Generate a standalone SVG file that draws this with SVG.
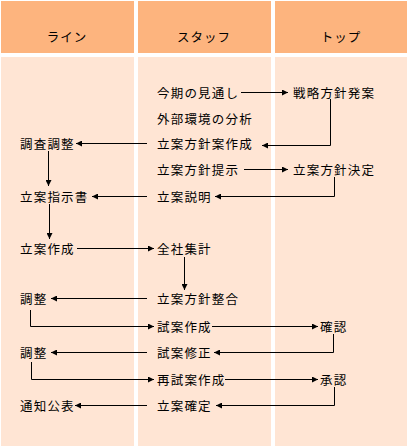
<svg xmlns="http://www.w3.org/2000/svg" width="408" height="447" viewBox="0 0 408 447">
<style>
.hd{fill:#FDB47E}
.bd{fill:#FFE5D4}
text{font-family:"Noto Sans CJK JP","Noto Sans CJK SC",sans-serif;font-size:12.5px;fill:#000;letter-spacing:1.2px;dominant-baseline:central}
.h{text-anchor:middle;letter-spacing:1px}
.c path{fill:none;stroke:#000;stroke-width:1}
</style>
<defs>
<marker id="a" viewBox="0 0 10 10" refX="10" refY="5" markerWidth="6" markerHeight="6" markerUnits="userSpaceOnUse" orient="auto">
<path d="M0,0 L10,5 L0,10 z" fill="#000"/>
</marker>
</defs>
<rect width="408" height="447" fill="#fff"/>
<g id="headers">
<rect class="hd" x="1" y="1" width="133" height="52"/>
<rect class="hd" x="138" y="1" width="133" height="52"/>
<rect class="hd" x="275" y="1" width="132" height="52"/>
<text class="h" x="67" y="36">ライン</text>
<text class="h" x="204" y="36">スタッフ</text>
<text class="h" x="341" y="36">トップ</text>
</g>
<g id="body">
<rect class="bd" x="1" y="57" width="133" height="389"/>
<rect class="bd" x="138" y="57" width="133" height="389"/>
<rect class="bd" x="275" y="57" width="132" height="389"/>
</g>
<g id="n1"><text x="157" y="92">今期の見通し</text></g>
<g id="n2"><text x="293" y="92">戦略方針発案</text></g>
<g id="n3"><text x="157" y="118">外部環境の分析</text></g>
<g id="n4"><text x="157" y="143">立案方針案作成</text></g>
<g id="n5"><text x="20" y="143">調査調整</text></g>
<g id="n6"><text x="157" y="169">立案方針提示</text></g>
<g id="n7"><text x="293" y="169">立案方針決定</text></g>
<g id="n8"><text x="157" y="196">立案説明</text></g>
<g id="n9"><text x="20" y="196">立案指示書</text></g>
<g id="n10"><text x="20" y="248">立案作成</text></g>
<g id="n11"><text x="157" y="248">全社集計</text></g>
<g id="n12"><text x="157" y="298">立案方針整合</text></g>
<g id="n13"><text x="20" y="298">調整</text></g>
<g id="n14"><text x="157" y="326">試案作成</text></g>
<g id="n15"><text x="320" y="326">確認</text></g>
<g id="n16"><text x="157" y="352">試案修正</text></g>
<g id="n17"><text x="20" y="352">調整</text></g>
<g id="n18"><text x="157" y="379">再試案作成</text></g>
<g id="n19"><text x="320" y="379">承認</text></g>
<g id="n20"><text x="157" y="405">立案確定</text></g>
<g id="n21"><text x="20" y="405">通知公表</text></g>
<g id="connectors" class="c">
<path d="M241,92.5 H288" marker-end="url(#a)"/>
<path d="M330.5,99 V145.5 H262" marker-end="url(#a)"/>
<path d="M147,143.5 H76" marker-end="url(#a)"/>
<path d="M48.5,151 V186" marker-end="url(#a)"/>
<path d="M244,169.5 H288" marker-end="url(#a)"/>
<path d="M334.5,177 V196.5 H215" marker-end="url(#a)"/>
<path d="M147,196.5 H92" marker-end="url(#a)"/>
<path d="M49.5,204 V239" marker-end="url(#a)"/>
<path d="M77,248.5 H154" marker-end="url(#a)"/>
<path d="M184.5,257 V290" marker-end="url(#a)"/>
<path d="M147,298.5 H51" marker-end="url(#a)"/>
<path d="M30.5,310 V326.5 H154" marker-end="url(#a)"/>
<path d="M212,326.5 H318" marker-end="url(#a)"/>
<path d="M333.5,334 V352.5 H214" marker-end="url(#a)"/>
<path d="M147,352.5 H51" marker-end="url(#a)"/>
<path d="M31.5,362 V379.5 H154" marker-end="url(#a)"/>
<path d="M225,379.5 H318" marker-end="url(#a)"/>
<path d="M334.5,387 V405.5 H216" marker-end="url(#a)"/>
<path d="M147,405.5 H75" marker-end="url(#a)"/>
</g>
</svg>
